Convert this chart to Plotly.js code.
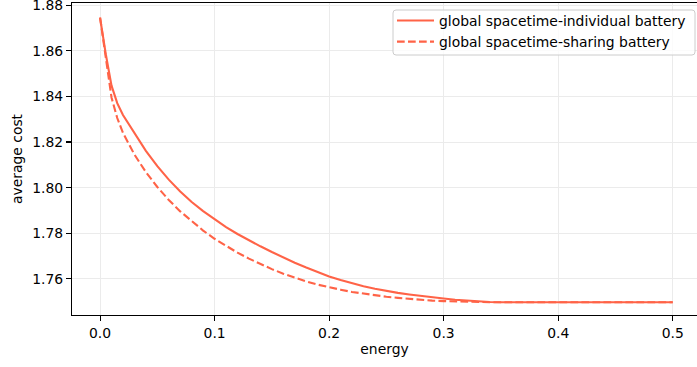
<!DOCTYPE html>
<html>
<head>
<meta charset="utf-8">
<script src="https://cdn.plot.ly/plotly-3.0.1.min.js"></script>
<style>html,body{margin:0;padding:0;background:#fff;}#chart{width:697px;height:367px;}</style>
</head>
<body>
<div id="chart"></div>
<script>
var energy = [0, 0.005, 0.01, 0.015, 0.02, 0.03, 0.04, 0.05, 0.06, 0.07, 0.08, 0.09, 0.10,
  0.11, 0.12, 0.13, 0.14, 0.15, 0.16, 0.17, 0.18, 0.19, 0.20, 0.21, 0.22, 0.23, 0.24, 0.25,
  0.26, 0.27, 0.28, 0.29, 0.30, 0.31, 0.32, 0.33, 0.34, 0.35, 0.36, 0.37, 0.38, 0.39, 0.40,
  0.41, 0.42, 0.43, 0.44, 0.45, 0.46, 0.47, 0.48, 0.49, 0.50];
var individualBattery = [1.8745, 1.8585, 1.8447, 1.8370, 1.8318, 1.8237, 1.8161, 1.8094, 1.8035, 1.7983, 1.7937, 1.7897, 1.7860,
  1.7827, 1.7797, 1.7769, 1.7743, 1.7718, 1.7694, 1.7671, 1.7650, 1.7630, 1.7611, 1.7595, 1.7581, 1.7568, 1.7557, 1.7547,
  1.7539, 1.7532, 1.7525, 1.7519, 1.7514, 1.7509, 1.7505, 1.7501, 1.7499, 1.7498, 1.7498, 1.7498, 1.7498, 1.7498, 1.7498,
  1.7498, 1.7498, 1.7498, 1.7498, 1.7498, 1.7498, 1.7498, 1.7498, 1.7498, 1.7498];
var sharingBattery = [1.8745, 1.8570, 1.8395, 1.8305, 1.8240, 1.8145, 1.8068, 1.8003, 1.7946, 1.7896, 1.7852, 1.7812, 1.7776,
  1.7744, 1.7715, 1.7689, 1.7665, 1.7643, 1.7623, 1.7605, 1.7589, 1.7575, 1.7563, 1.7553, 1.7543, 1.7535, 1.7528, 1.7522,
  1.7517, 1.7512, 1.7508, 1.7505, 1.7503, 1.7501, 1.7499, 1.7498, 1.7498, 1.7498, 1.7498, 1.7498, 1.7498, 1.7498, 1.7498,
  1.7498, 1.7498, 1.7498, 1.7498, 1.7498, 1.7498, 1.7498, 1.7498, 1.7498, 1.7498];
var seriesNames = ["global spacetime-individual battery", "global spacetime-sharing battery"];
var xTicks = [0, 0.1, 0.2, 0.3, 0.4, 0.5];
var xTickLabels = ["0.0", "0.1", "0.2", "0.3", "0.4", "0.5"];
var yTicks = [1.76, 1.78, 1.80, 1.82, 1.84, 1.86, 1.88];
var yTickLabels = ["1.76", "1.78", "1.80", "1.82", "1.84", "1.86", "1.88"];

var color = "#ff6347";
var font = "DejaVu Sans, sans-serif";
var traces = [
  {x: energy, y: individualBattery, name: seriesNames[0], type: "scatter", mode: "lines",
   line: {color: color, width: 2.1}},
  {x: energy, y: sharingBattery, name: seriesNames[1], type: "scatter", mode: "lines",
   line: {color: color, width: 2.1, dash: "7.7px,3.3px"}}
];
// plot area in pixels: x 72..697, y 3..315
function px(x) { return (x - 72) / 625; }
function py(y) { return (315 - y) / 312; }
var bx0 = 393, bx1 = 695, by0 = 10, by1 = 55, r = 3;
var boxPath = "M " + px(bx0 + r) + " " + py(by0) +
  " L " + px(bx1 - r) + " " + py(by0) + " Q " + px(bx1) + " " + py(by0) + " " + px(bx1) + " " + py(by0 + r) +
  " L " + px(bx1) + " " + py(by1 - r) + " Q " + px(bx1) + " " + py(by1) + " " + px(bx1 - r) + " " + py(by1) +
  " L " + px(bx0 + r) + " " + py(by1) + " Q " + px(bx0) + " " + py(by1) + " " + px(bx0) + " " + py(by1 - r) +
  " L " + px(bx0) + " " + py(by0 + r) + " Q " + px(bx0) + " " + py(by0) + " " + px(bx0 + r) + " " + py(by0) + " Z";

var layout = {
  width: 697, height: 367,
  margin: {l: 72, r: 0, t: 3, b: 52},
  paper_bgcolor: "#fff", plot_bgcolor: "#fff",
  font: {family: font, size: 13.9, color: "#000"},
  showlegend: true,
  legend: {x: px(392), xanchor: "left", y: py(5), yanchor: "top",
    bgcolor: "rgba(0,0,0,0)", borderwidth: 0, itemwidth: 37,
    font: {family: font, size: 13.9, color: "#000"}, tracegroupgap: 0},
  shapes: [{type: "path", xref: "paper", yref: "paper", path: boxPath,
    fillcolor: "rgba(255,255,255,0.8)", line: {color: "#cccccc", width: 1}, layer: "above"}],
  xaxis: {
    range: [-0.0245, 0.5212], tickvals: xTicks, ticktext: xTickLabels,
    showgrid: true, gridcolor: "#ebebeb", gridwidth: 1,
    zeroline: false, showline: true, linecolor: "#000", linewidth: 1.1, mirror: true,
    ticks: "outside", ticklen: 5, tickwidth: 1.1, tickcolor: "#000",
    tickfont: {family: font, size: 13.9, color: "#000"},
    title: {text: "energy", font: {family: font, size: 13.9, color: "#000"}, standoff: 4},
    automargin: false
  },
  yaxis: {
    range: [1.7442, 1.8809], tickvals: yTicks, ticktext: yTickLabels,
    showgrid: true, gridcolor: "#ebebeb", gridwidth: 1,
    zeroline: false, showline: true, linecolor: "#000", linewidth: 1.1, mirror: false,
    ticks: "outside", ticklen: 5, tickwidth: 1.1, tickcolor: "#000",
    ticklabeloverflow: "allow",
    tickfont: {family: font, size: 13.9, color: "#000"},
    title: {text: "average cost", font: {family: font, size: 13.9, color: "#000"}, standoff: 6},
    automargin: false
  }
};
Plotly.newPlot("chart", traces, layout, {staticPlot: true, displayModeBar: false});
</script>
</body>
</html>
